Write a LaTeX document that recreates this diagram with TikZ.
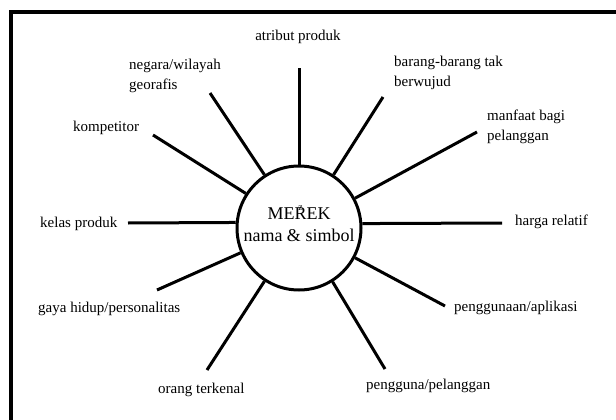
\documentclass[tikz,border=0pt]{standalone}
\usepackage{fontspec}
\setmainfont{Liberation Serif}
\begin{document}
\begin{tikzpicture}[x=1pt,y=-1pt,
  lbl/.style={inner sep=0pt, anchor=west, align=left, font=\fontsize{15}{20}\selectfont},
  ray/.style={line width=3pt},
  frame/.style={line width=4pt}]
\useasboundingbox (0,0) rectangle (616,420);
\fill[white] (0,0) rectangle (616,420);
\draw[frame] (11,425) -- (11,12) -- (620,12);
\node[circle, draw, line width=3pt, minimum size=124pt, inner sep=0pt] (c) at (299,228) {};
\node[inner sep=0pt, align=center, font=\fontsize{18}{22}\selectfont] (t) at (299,224)
  {ME\rlap{\raisebox{0.5em}{\kern0.22em\fontsize{10}{10}\selectfont z}}REK\\nama \& simbol};
% outer ends
\coordinate (o1) at (299,68);
\coordinate (o2) at (383,97);
\coordinate (o3) at (477,132);
\coordinate (o4) at (502,223);
\coordinate (o5) at (445,306);
\coordinate (o6) at (385,369);
\coordinate (o7) at (207,370);
\coordinate (o8) at (157,290);
\coordinate (o9) at (128,223);
\coordinate (o10) at (153,135);
\coordinate (o11) at (210,93);
\draw[ray] (c.90) -- (o1);
\draw[ray] (c.57) -- (o2);
\draw[ray] (c.28) -- (o3);
\draw[ray] (c.4.5) -- (o4);
\draw[ray] (c.-28) -- (o5);
\draw[ray] (c.-58.6) -- (o6);
\draw[ray] (c.237) -- (o7);
\draw[ray] (c.203.6) -- (o8);
\draw[ray] (c.175.5) -- (o9);
\draw[ray] (c.147.5) -- (o10);
\draw[ray] (c.123.4) -- (o11);
% labels
\node[lbl, anchor=center] (l1) at (298,37) {atribut produk};
\node[lbl] (l2) at (394,73) {barang-barang tak\\berwujud};
\node[lbl] (l3) at (487,127) {manfaat bagi\\pelanggan};
\node[lbl] (l4) at (515,222) {harga relatif};
\node[lbl] (l5) at (454,308) {penggunaan/aplikasi};
\node[lbl] (l6) at (366,386) {pengguna/pelanggan};
\node[lbl] (l7) at (158,390) {orang terkenal};
\node[lbl] (l8) at (38,309) {gaya hidup/personalitas};
\node[lbl] (l9) at (40,224) {kelas produk};
\node[lbl] (l10) at (73,128) {kompetitor};
\node[lbl] (l11) at (129,76) {negara/wilayah\\georafis};
\end{tikzpicture}
\end{document}
